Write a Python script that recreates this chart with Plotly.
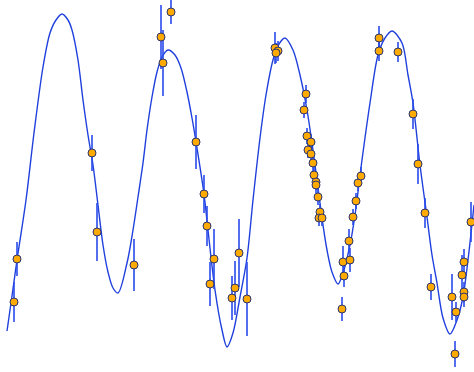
"""Orange measurements with error bars over a blue model curve."""

import plotly.graph_objects as go

# model curve (x, y in picture units, y grows downward)
curve_x = [7, 12, 17, 26, 34, 43, 50, 56, 62, 68, 72, 78, 83, 88, 93, 98,
           103, 108, 113, 118, 127, 133, 138, 143, 147, 152, 157, 162, 168,
           175, 181, 187, 192, 197, 204, 208, 215, 222, 227, 233, 240, 247,
           253, 260, 266, 273, 279, 285, 293, 300, 307, 312, 317, 322, 327,
           332, 338, 343, 350, 355, 362, 370, 378, 385, 392, 402, 408, 413,
           420, 427, 432, 437, 443, 450, 457, 463, 468, 474]
curve_y = [331, 296, 260, 200, 133, 67, 33, 20, 14, 20, 30, 60, 100, 135,
           165, 205, 245, 272, 288, 293, 263, 230, 197, 163, 130, 97, 72, 57,
           50, 55, 68, 92, 118, 148, 194, 230, 290, 330, 347, 333, 297, 258,
           200, 138, 95, 60, 44, 38, 50, 75, 110, 143, 180, 218, 250, 272,
           284, 273, 245, 215, 160, 103, 55, 38, 31, 43, 75, 103, 165, 217,
           255, 283, 318, 334, 320, 297, 260, 205]

# measurements
obs_x = [14, 17, 92, 97, 134, 161, 163, 171, 196, 204, 207, 210, 214, 232,
         235, 239, 247, 275, 278, 276, 306, 304, 307, 311, 308, 311, 313,
         314, 316, 316, 318, 320, 319, 322, 342, 344, 343, 350, 349, 353,
         356, 358, 361, 379, 379, 398, 413, 418, 425, 431, 452, 456, 455,
         464, 462, 464, 464, 471]
obs_y = [302, 259, 153, 232, 265, 37, 63, 12, 142, 194, 226, 284, 259, 298,
         288, 253, 299, 48, 51, 53, 94, 110, 136, 142, 150, 154, 163, 175,
         182, 185, 197, 212, 218, 218, 309, 276, 262, 260, 241, 217, 201,
         183, 176, 38, 51, 52, 114, 164, 213, 287, 297, 312, 354, 262, 275,
         292, 297, 222]
obs_err = [20, 17, 18, 29, 26, 32, 33, 12, 27, 19, 20, 22, 30, 22, 27, 34,
           37, 16, 10, 10, 9, 8, 8, 8, 8, 8, 8, 8, 8, 8, 8, 8, 8, 8, 12, 11,
           16, 12, 12, 8, 8, 8, 9, 12, 10, 10, 15, 20, 15, 13, 23, 10, 13, 13,
           20, 10, 10, 20]

fig = go.Figure()

fig.add_trace(go.Scatter(
    x=curve_x,
    y=curve_y,
    mode='lines',
    line=dict(color='#2040dd', width=1.4, shape='spline', smoothing=0.9),
    hoverinfo='skip',
))

fig.add_trace(go.Scatter(
    x=obs_x,
    y=obs_y,
    mode='markers',
    marker=dict(size=8, color='#ffaa00', line=dict(color='#2a3470', width=1)),
    error_y=dict(type='data', array=obs_err, visible=True,
                 color='rgba(40,75,235,0.8)', thickness=2, width=0),
))

fig.update_layout(
    width=474,
    height=372,
    margin=dict(l=0, r=0, t=0, b=0),
    showlegend=False,
    plot_bgcolor='white',
    paper_bgcolor='white',
    xaxis=dict(visible=False, range=[0, 474]),
    yaxis=dict(visible=False, range=[372, 0]),
)

# page has a default body margin; drop it so the figure sits at 0,0
fig.write_html(
    "out.html",
    config={'displayModeBar': False},
    post_script="document.body.style.margin='0';",
)
